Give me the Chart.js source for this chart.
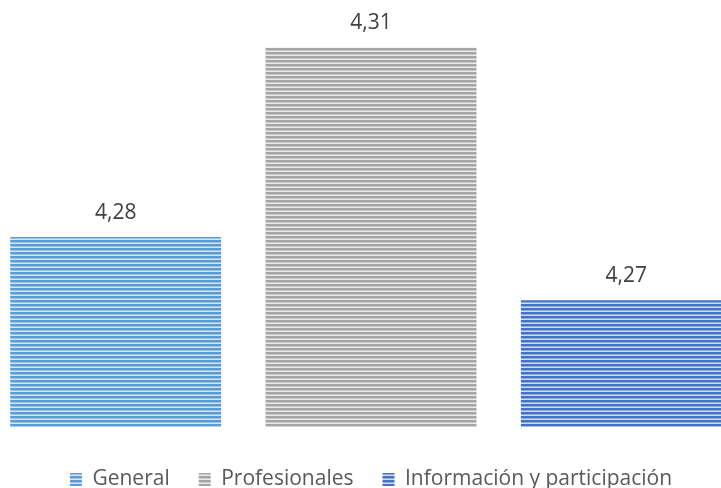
<!DOCTYPE html>
<html>
<head>
<meta charset="utf-8">
<script src="https://cdn.jsdelivr.net/npm/chart.js@4"></script>
<style>
  html, body { margin: 0; padding: 0; background: #fff; overflow: hidden; width: 721px; height: 488px; }
  #wrap { position: absolute; left: -12px; top: 0; width: 766px; height: 500px; }
</style>
</head>
<body>
<div id="wrap"><canvas id="myChart"></canvas></div>
<script>
const categories = [''];
const seriesNames = ['General', 'Profesionales', 'Información y participación'];
const seriesValues = [4.28, 4.31, 4.27];
const seriesColors = ['#5B9BD5', '#A5A5A5', '#4472C4'];

// mix a hex colour with white
function tint(hex, t) {
  var r = parseInt(hex.substr(1, 2), 16), g = parseInt(hex.substr(3, 2), 16), b = parseInt(hex.substr(5, 2), 16);
  r = Math.round(r + (255 - r) * t); g = Math.round(g + (255 - g) * t); b = Math.round(b + (255 - b) * t);
  return 'rgb(' + r + ',' + g + ',' + b + ')';
}

// horizontal stripes, like the excel fill
function stripes(hex) {
  var c = document.createElement('canvas');
  c.width = 4; c.height = 4;
  var x = c.getContext('2d');
  x.fillStyle = hex; x.fillRect(0, 0, 4, 2);
  x.fillStyle = tint(hex, 0.4); x.fillRect(0, 2, 4, 1);
  x.fillStyle = tint(hex, 0.75); x.fillRect(0, 3, 4, 1);
  return x.createPattern(c, 'repeat');
}

var datasets = seriesNames.map(function (name, i) {
  return {
    label: name,
    data: [seriesValues[i]],
    backgroundColor: stripes(seriesColors[i]),
    borderWidth: 0,
    categoryPercentage: 1,
    barPercentage: 0.826
  };
});

var valueLabels = {
  id: 'valueLabels',
  afterDatasetsDraw: function (chart) {
    var ctx = chart.ctx;
    ctx.save();
    ctx.font = '21px "Open Sans"';
    ctx.fillStyle = '#404040';
    ctx.textAlign = 'center';
    ctx.textBaseline = 'middle';
    chart.data.datasets.forEach(function (ds, i) {
      chart.getDatasetMeta(i).data.forEach(function (bar, j) {
        ctx.fillText(ds.data[j].toFixed(2).replace('.', ','), bar.x, bar.y - 24);
      });
    });
    ctx.restore();
  }
};

var myChart = new Chart(document.getElementById('myChart'), {
  type: 'bar',
  data: { labels: categories, datasets: datasets },
  plugins: [valueLabels],
  options: {
    responsive: true,
    maintainAspectRatio: false,
    animation: false,
    events: [],
    layout: { padding: 0 },
    scales: {
      x: { display: false },
      y: { display: false, min: 4.25, max: 4.3175 }
    },
    plugins: {
      tooltip: { enabled: false },
      legend: {
        position: 'bottom',
        title: { display: true, text: '', padding: 0, font: { size: 11 } },
        labels: {
          boxWidth: 12,
          boxHeight: 13,
          padding: 29,
          color: '#595959',
          font: { family: '"Open Sans"', size: 21 }
        }
      }
    }
  }
});
</script>
</body>
</html>
